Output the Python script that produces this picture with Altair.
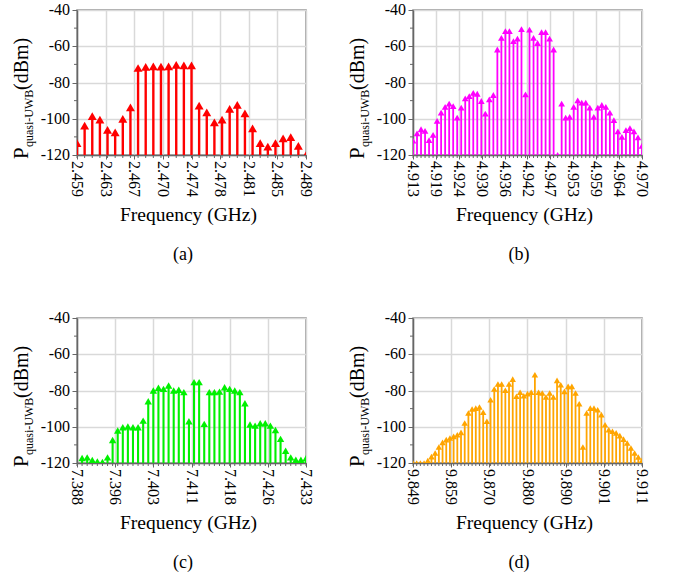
import altair as alt
import pandas as pd

SERIF = "Liberation Serif"
STEP_GHZ = 0.001  # spectrum bin spacing

# ---- (a) 2.4 GHz band ----
a_start, a_count = 2.459, 31
a_power = [-113.4, -103.8, -98.6, -100.5, -106.2, -107.5, -100.1, -93.7,
           -72.0, -71.4, -71.1, -71.3, -71.1, -70.3, -70.5, -70.5,
           -92.8, -96.5, -102.0, -100.5, -94.6, -92.4, -97.0, -105.3,
           -113.4, -115.4, -113.4, -110.8, -110.1, -114.9, -120.0]
a_ticks = ["2.459", "2.463", "2.467", "2.470", "2.474", "2.478", "2.481", "2.485", "2.489"]

# ---- (b) 4.9 GHz band ----
b_start, b_count = 4.913, 58
b_power = [-112.1, -108.1, -105.8, -106.7, -111.8, -108.9, -101.2, -96.6,
           -93.5, -91.7, -93.0, -99.4, -93.9, -88.8, -87.5, -85.7,
           -86.2, -90.2, -97.2, -89.3, -86.9, -61.8, -55.4, -51.7,
           -51.7, -57.2, -55.8, -50.5, -86.5, -50.8, -55.4, -58.2,
           -52.2, -52.2, -55.8, -61.8, -120.0, -91.7, -99.4, -99.0,
           -93.5, -89.9, -91.1, -91.1, -93.9, -99.0, -93.9, -92.4,
           -93.5, -96.6, -100.8, -107.0, -110.0, -106.3, -105.2, -107.0,
           -110.3, -114.9]
b_ticks = ["4.913", "4.919", "4.924", "4.930", "4.936", "4.942",
           "4.947", "4.953", "4.959", "4.964", "4.970"]

# ---- (c) 7.4 GHz band ----
c_start, c_count = 7.388, 46
c_power = [-125.0, -117.2, -116.9, -118.3, -119.1, -119.4, -116.9, -107.3,
           -102.1, -100.3, -99.9, -100.3, -100.3, -96.6, -85.9, -80.0,
           -78.5, -79.1, -77.2, -80.0, -79.6, -80.9, -97.0, -75.4,
           -75.4, -98.4, -80.9, -80.9, -80.6, -78.2, -79.1, -80.0,
           -80.9, -87.0, -98.8, -99.4, -98.1, -98.1, -99.4, -101.8,
           -106.7, -113.2, -116.9, -118.2, -118.2, -117.4]
c_ticks = ["7.388", "7.396", "7.403", "7.411", "7.418", "7.426", "7.433"]

# ---- (d) 9.9 GHz band ----
d_start, d_count = 9.849, 63
d_power = [-120.0, -120.0, -120.0, -120.0, -118.7, -116.5, -114.5, -111.2,
           -108.6, -107.1, -106.2, -105.3, -104.4, -103.1, -97.9, -92.4,
           -90.2, -89.7, -89.1, -92.0, -97.0, -85.1, -79.2, -76.4,
           -76.4, -79.9, -76.4, -73.7, -83.2, -81.0, -82.9, -81.7,
           -81.0, -71.3, -81.0, -81.4, -83.6, -81.4, -83.6, -74.4,
           -76.8, -80.5, -77.7, -77.7, -81.4, -87.3, -111.2, -92.4,
           -89.7, -89.7, -90.6, -93.3, -98.9, -101.6, -102.5, -103.4,
           -104.9, -106.8, -109.0, -111.7, -114.5, -116.7, -118.5]
d_ticks = ["9.849", "9.859", "9.870", "9.880", "9.890", "9.901", "9.911"]

Y_MIN, Y_MAX = -120, -40
Y_MAJOR = [-120, -100, -80, -60, -40]
Y_MINOR = [-110, -90, -70, -50]

W, H = 229, 145
AXIS_GREY = "#666666"

AXIS_STYLE = dict(
    domainColor=AXIS_GREY, domainWidth=1.5, tickColor=AXIS_GREY,
    gridColor="#d9d9d9", gridWidth=1.5, labels=False, title=None,
)


def txt(**kw):
    return dict(font=SERIF, color="#000", **kw)


def panel(start, count, power, tick_labels, color, stem_w, head_size, caption):
    freqs = [round(start + STEP_GHZ * i, 4) for i in range(count)]
    df = pd.DataFrame({"f": freqs, "p": power})
    lo, hi = freqs[0], freqs[-1]
    n = len(tick_labels)
    spacing = (hi - lo) / (n - 1)
    tick_pos = [lo + spacing * i for i in range(n)]

    x_enc = alt.X(
        "f:Q",
        scale=alt.Scale(domain=[lo, hi], nice=False, zero=False),
        axis=alt.Axis(values=tick_pos, tickSize=4, **AXIS_STYLE),
    )
    y_enc = alt.Y(
        "p:Q",
        scale=alt.Scale(domain=[Y_MIN, Y_MAX], nice=False, zero=False),
        axis=alt.Axis(values=Y_MAJOR, tickSize=5, **AXIS_STYLE),
    )

    base = alt.Chart(df)
    stems = base.mark_rule(color=color, strokeWidth=stem_w, clip=True).encode(
        x=x_enc, y=y_enc, y2=alt.datum(Y_MIN))
    heads = base.mark_point(shape="triangle-up", filled=True, size=head_size,
                            color=color, opacity=1, clip=True).encode(x=x_enc, y=y_enc)
    bin_ticks = base.mark_rule(color=AXIS_GREY, strokeWidth=1).encode(
        x=x_enc, y=alt.value(H), y2=alt.value(H + 3))
    minor_y = alt.Chart(pd.DataFrame({"p": Y_MINOR})).mark_rule(
        color=AXIS_GREY, strokeWidth=1).encode(
        y=y_enc, x=alt.value(-3), x2=alt.value(0))

    # tick labels as text marks placed through the shared scales
    x_labels = alt.Chart(pd.DataFrame({"f": tick_pos, "lab": tick_labels})).mark_text(
        **txt(fontSize=16, angle=90, align="left", baseline="middle")).encode(
        x=x_enc, y=alt.value(H + 6), text="lab:N")
    y_labels = alt.Chart(pd.DataFrame({"p": Y_MAJOR, "lab": [str(v) for v in Y_MAJOR]})).mark_text(
        **txt(fontSize=16, align="right", baseline="middle")).encode(
        y=y_enc, x=alt.value(-7), text="lab:N")

    one = pd.DataFrame({"k": [0]})
    x_title = alt.Chart(one).mark_text(
        **txt(text="Frequency (GHz)", fontSize=19.5, align="center",
              baseline="alphabetic")).encode(x=alt.value(W / 2 - 3), y=alt.value(H + 66))
    ytitle_main = alt.Chart(one).mark_text(
        **txt(text="P", angle=270, fontSize=21, align="left",
              baseline="alphabetic")).encode(x=alt.value(-49), y=alt.value(149))
    ytitle_sub = alt.Chart(one).mark_text(
        **txt(text="quasi-UWB", angle=270, fontSize=12, align="left",
              baseline="alphabetic")).encode(x=alt.value(-44), y=alt.value(137))
    ytitle_unit = alt.Chart(one).mark_text(
        **txt(text=" (dBm)", angle=270, fontSize=20, align="left",
              baseline="alphabetic")).encode(x=alt.value(-49), y=alt.value(80))
    cap = alt.Chart(one).mark_text(
        **txt(text=caption, fontSize=18, align="center",
              baseline="middle")).encode(x=alt.value(106), y=alt.value(245))

    return alt.layer(stems, heads, bin_ticks, minor_y, x_labels, y_labels, x_title,
                     ytitle_main, ytitle_sub, ytitle_unit, cap).properties(width=W, height=H)


pa = panel(a_start, a_count, a_power, a_ticks, "#ff0000", 2.4, 80, "(a)")
pb = panel(b_start, b_count, b_power, b_ticks, "#ff00ff", 1.8, 45, "(b)")
pc = panel(c_start, c_count, c_power, c_ticks, "#00f000", 2.1, 55, "(c)")
pd_ = panel(d_start, d_count, d_power, d_ticks, "#ffa500", 1.8, 42, "(d)")

chart = alt.concat(
    pa, pb, pc, pd_, columns=2, spacing={"row": 163, "column": 107}, bounds="flush"
).properties(
    padding={"left": 10, "top": 1, "right": 4, "bottom": 4},
    background="white",
).configure_view(stroke="#8a8a8a", strokeWidth=1.5)

chart.save("out.html", embed_options={"renderer": "svg", "actions": False})
